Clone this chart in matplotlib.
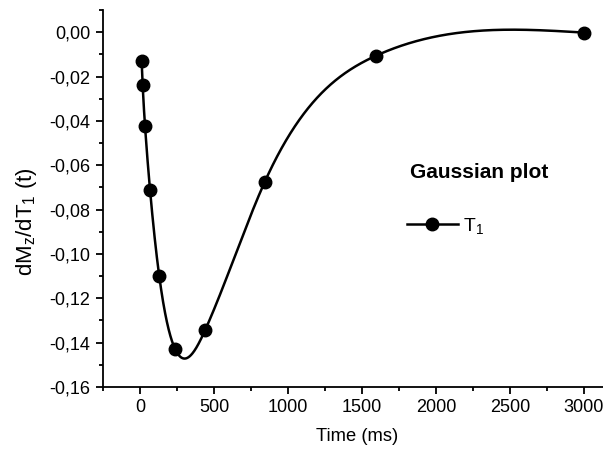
import numpy as np
import matplotlib
matplotlib.use("Agg")
import matplotlib.pyplot as plt
from matplotlib.ticker import FuncFormatter, MultipleLocator
from matplotlib.lines import Line2D

plt.rcParams['font.family'] = ['Liberation Sans', 'DejaVu Sans']
plt.rcParams['mathtext.fontset'] = 'custom'
plt.rcParams['mathtext.rm'] = 'Liberation Sans'
plt.rcParams['mathtext.it'] = 'Liberation Sans'
plt.rcParams['mathtext.default'] = 'regular'

# Data
time_ms = [11, 18, 34, 68, 130, 238, 441, 843, 1592, 3002]
dMz_dT1 = [-0.0130, -0.0238, -0.0423, -0.0713, -0.1100, -0.1430, -0.1342, -0.0675, -0.0107, -0.0002]

x_ticks = [0, 500, 1000, 1500, 2000, 2500, 3000]
y_ticks = [-0.16, -0.14, -0.12, -0.10, -0.08, -0.06, -0.04, -0.02, 0.00]


def natural_cubic_spline(x, y, xs):
    x = np.asarray(x, float)
    y = np.asarray(y, float)
    n = len(x)
    h = np.diff(x)
    A = np.zeros((n, n))
    b = np.zeros(n)
    A[0, 0] = 1
    A[-1, -1] = 1
    for i in range(1, n - 1):
        A[i, i - 1] = h[i - 1]
        A[i, i] = 2 * (h[i - 1] + h[i])
        A[i, i + 1] = h[i]
        b[i] = 3 * ((y[i + 1] - y[i]) / h[i] - (y[i] - y[i - 1]) / h[i - 1])
    c = np.linalg.solve(A, b)
    bb = np.zeros(n - 1)
    d = np.zeros(n - 1)
    for i in range(n - 1):
        bb[i] = (y[i + 1] - y[i]) / h[i] - h[i] * (2 * c[i] + c[i + 1]) / 3
        d[i] = (c[i + 1] - c[i]) / (3 * h[i])
    idx = np.clip(np.searchsorted(x, xs) - 1, 0, n - 2)
    dx = xs - x[idx]
    return y[idx] + bb[idx] * dx + c[idx] * dx ** 2 + d[idx] * dx ** 3


fig = plt.figure(figsize=(6.03, 4.49), dpi=100)
ax = fig.add_axes([103 / 603, (449 - 387) / 449, 518 / 603, (387 - 10) / 449])

xs = np.linspace(time_ms[0], time_ms[-1], 2000)
ys = natural_cubic_spline(time_ms, dMz_dT1, xs)
ax.plot(xs, ys, color='black', lw=1.8, solid_capstyle='round')
ax.plot(time_ms, dMz_dT1, 'o', color='black', ms=9)

ax.set_xlim(-250, 3250)
ax.set_ylim(-0.16, 0.01)
ax.set_xticks(x_ticks)
ax.set_yticks(y_ticks)
ax.xaxis.set_minor_locator(MultipleLocator(250))
ax.yaxis.set_minor_locator(MultipleLocator(0.01))
ax.yaxis.set_major_formatter(FuncFormatter(lambda v, p: f"{v:.2f}".replace('.', ',') if abs(v) > 1e-9 else "0,00"))
ax.xaxis.set_major_formatter(FuncFormatter(lambda v, p: f"{int(round(v))}"))

for s in ['top', 'right']:
    ax.spines[s].set_visible(False)
for s in ['left', 'bottom']:
    ax.spines[s].set_linewidth(1.3)
ax.tick_params(axis='both', which='major', direction='out', length=5, width=1.3, labelsize=13, pad=4)
ax.tick_params(axis='both', which='minor', direction='out', length=3, width=1.3)

ax.set_xlabel('Time (ms)', fontsize=13.2)
ax.xaxis.set_label_coords((357 - 103) / 518, -(428 - 387) / 377)
ax.set_ylabel('dM$_z$/dT$_1$ (t)', fontsize=16)
ax.yaxis.set_label_coords(-(103 - 39) / 518, (387 - 222) / 377)

fig.text(479 / 603, 1 - 172 / 449, 'Gaussian plot', fontsize=15, fontweight='bold', ha='center', va='center')
handle = Line2D([], [], color='black', lw=1.8, marker='o', ms=9)
ax.legend([handle], ['T$_1$'], frameon=False, fontsize=14, handlelength=2.6,
          loc='center left', bbox_to_anchor=(407 / 603, 1 - 226 / 449),
          bbox_transform=fig.transFigure, borderaxespad=0, borderpad=0, handletextpad=0.3)

fig.savefig('out.png', dpi=100)
